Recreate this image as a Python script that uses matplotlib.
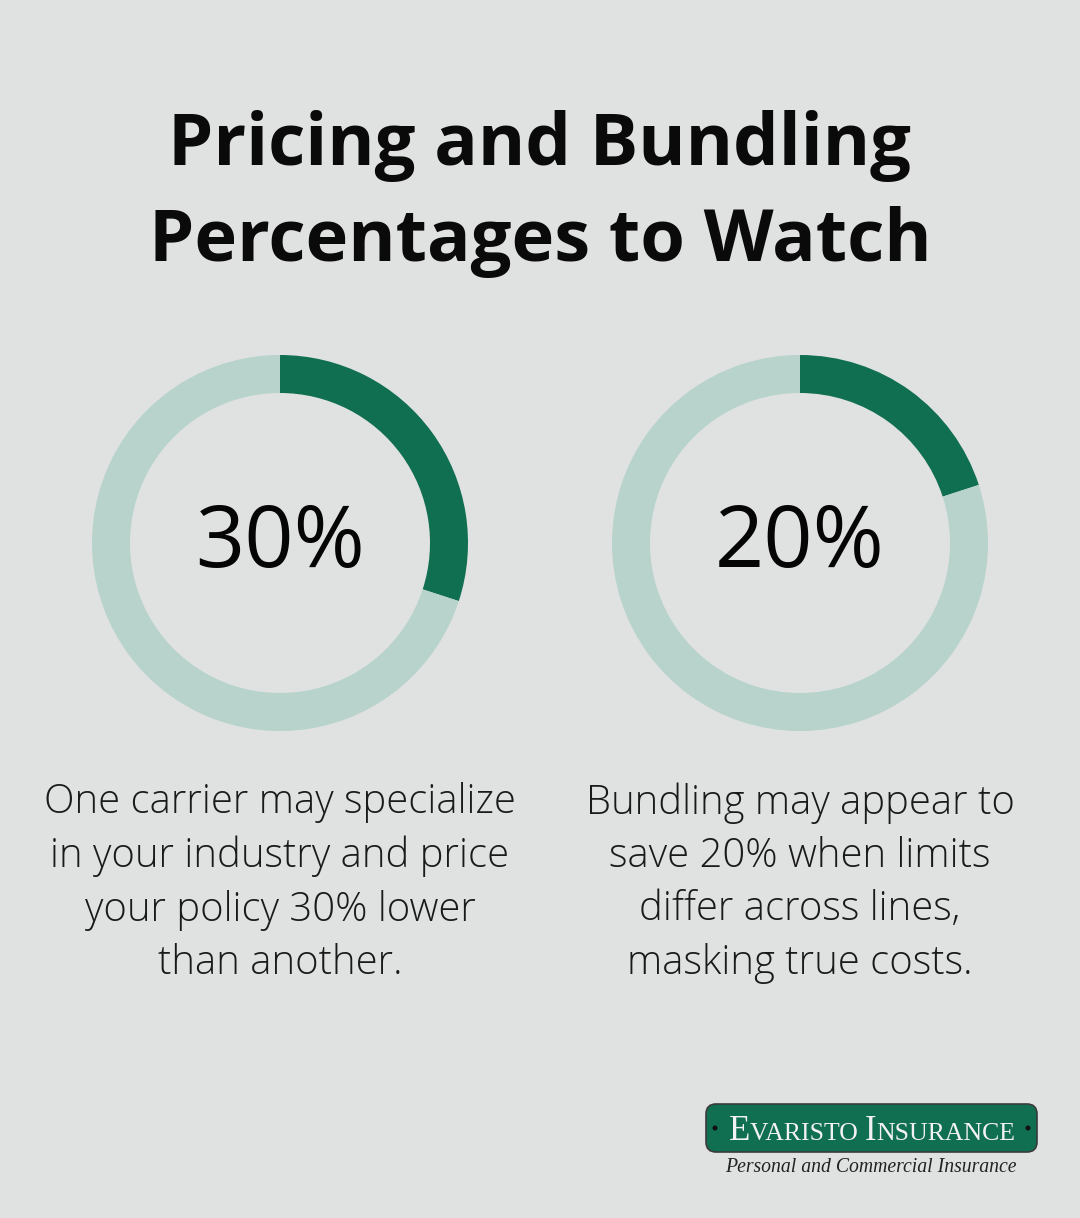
import matplotlib
matplotlib.use("Agg")
import matplotlib.pyplot as plt
from matplotlib.patches import FancyBboxPatch, Circle

# ---- data ----
percentages = [30, 20]
labels = ["30%", "20%"]
descriptions = [
    "One carrier may specialize\nin your industry and price\nyour policy 30% lower\nthan another.",
    "Bundling may appear to\nsave 20% when limits\ndiffer across lines,\nmasking true costs.",
]
title = "Pricing and Bundling\nPercentages to Watch"

BG = "#E0E2E1"
DARK = "#106E51"
LIGHT = "#B7D3CC"

W, H = 1080, 1218
fig = plt.figure(figsize=(W / 100, H / 100), dpi=100, facecolor=BG)

# main overlay axes in pixel coords
ax = fig.add_axes([0, 0, 1, 1])
ax.set_xlim(0, W)
ax.set_ylim(H, 0)
ax.axis("off")
ax.set_facecolor(BG)

ax.text(540, 194, title, ha="center", va="center", fontsize=52, fontweight="bold",
        family="Open Sans", color="#0a0a0a", linespacing=1.42)

centers_x = [280, 800]
cy = 543
R = 188
for i, (p, lab, desc) in enumerate(zip(percentages, labels, descriptions)):
    cx = centers_x[i]
    dax = fig.add_axes([(cx - R) / W, (H - cy - R) / H, 2 * R / W, 2 * R / H])
    dax.pie([p, 100 - p], colors=[DARK, LIGHT], startangle=90, counterclock=False,
            radius=1, wedgeprops=dict(width=38 / 188, linewidth=0))
    dax.set_xlim(-1, 1)
    dax.set_ylim(-1, 1)
    dax.set_aspect("equal")
    dax.axis("off")
    ax.text(cx, cy + 2, lab, ha="center", va="center", fontsize=62, family="Open Sans",
            fontweight="medium", color="#050505")
    ax.text(cx, 883, desc, ha="center", va="center", fontsize=28.8, family="Open Sans",
            fontweight="light", color="#1a1a1a", linespacing=1.4)

# ---- logo ----
bx0, bx1, by0, by1 = 706, 1037, 1104, 1152
banner = FancyBboxPatch((bx0, by0), bx1 - bx0, by1 - by0,
                        boxstyle="round,pad=0,rounding_size=10",
                        facecolor=DARK, edgecolor="#3a3a3a", linewidth=1.2, zorder=3)
ax.add_patch(banner)
for dx in (715, 1028):
    ax.add_patch(Circle((dx, 1128), 1.8, color="#111111", zorder=4))

fig.canvas.draw()
renderer = fig.canvas.get_renderer()
pieces = [("E", 25), ("VARISTO ", 18.5), ("I", 25), ("NSURANCE", 18.5)]
widths = []
for s, fs in pieces:
    t = ax.text(0, 0, s, fontsize=fs, family="Liberation Serif")
    bb = t.get_window_extent(renderer)
    widths.append(bb.width)
    t.remove()
total = sum(widths)
x = 872 - total / 2
for (s, fs), w in zip(pieces, widths):
    ax.text(x, 1140, s, fontsize=fs, family="Liberation Serif", color="#f2f2f2",
            ha="left", va="baseline", zorder=5)
    x += w

ax.text(871, 1168, "Personal and Commercial Insurance", ha="center", va="center",
        fontsize=14.2, family="Liberation Serif", style="italic", color="#222222")

fig.savefig("out.png", dpi=100, facecolor=BG)
